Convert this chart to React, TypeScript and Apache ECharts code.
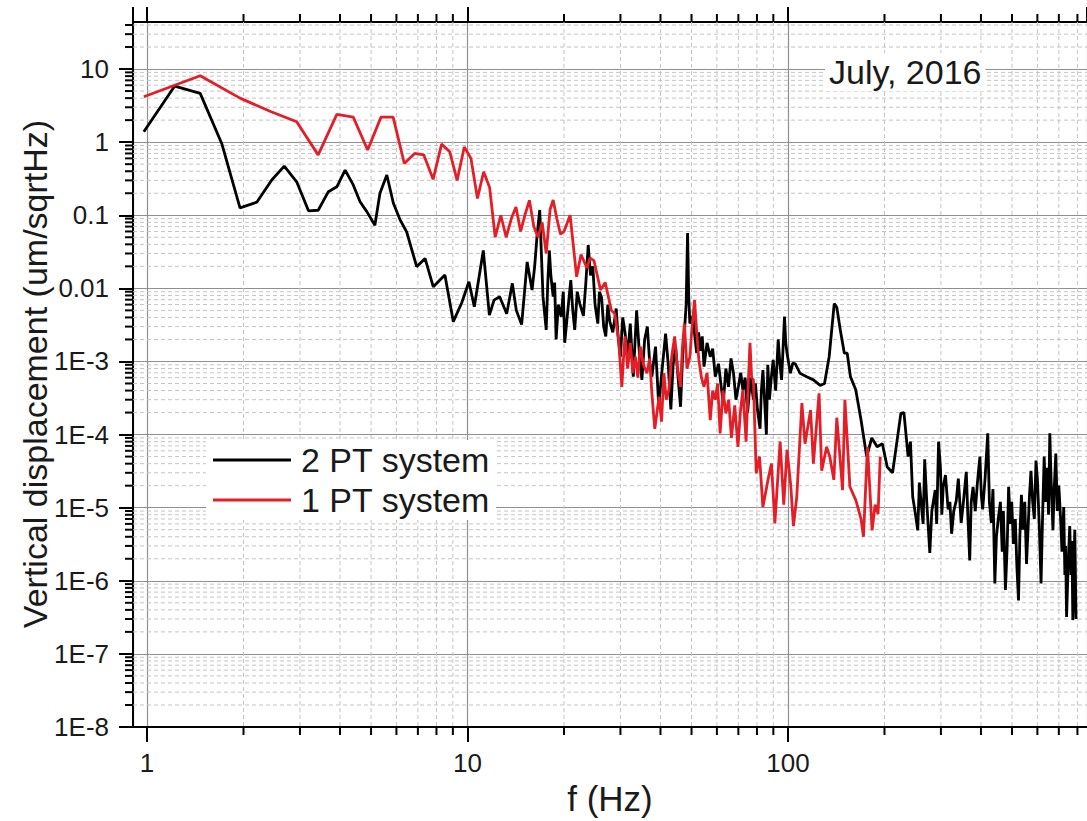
import React, { useEffect, useRef } from "react";
import * as echarts from "echarts";

const X_MIN = 0.904;
const X_MAX = 857;
const Y_MIN = 1e-8;
const Y_MAX = 44;

const X_TICK_LABELS: Record<number, string> = { 0: "1", 1: "10", 2: "100" };
const Y_TICK_LABELS = ["1E-8", "1E-7", "1E-6", "1E-5", "1E-4", "1E-3", "0.01", "0.1", "1", "10"];

const X_MINOR = [2, 3, 4, 5, 6, 7, 8, 9, 20, 30, 40, 50, 60, 70, 80, 90, 200, 300, 400, 500, 600, 700, 800];
const MINOR_MULT = [2, 3, 4, 5, 6, 7, 8, 9];
const Y_DECADES = [1e-8, 1e-7, 1e-6, 1e-5, 1e-4, 1e-3, 0.01, 0.1, 1, 10];

const SERIES_NAMES = ["2 PT system", "1 PT system"];
const TITLE_TEXT = "July, 2016";
const X_NAME = "f (Hz)";
const Y_NAME = "Vertical displacement (um/sqrtHz)";

// 2 PT system  [f (Hz), displacement]
const PT2: [number, number][] = [
  [0.977, 1.39], [1.22, 5.85], [1.465, 4.65], [1.71, 0.96], [1.95, 0.126], [2.2, 0.151], [2.45, 0.303],
  [2.68, 0.47], [2.93, 0.287], [3.19, 0.115], [3.42, 0.117], [3.68, 0.21], [3.91, 0.245], [4.15, 0.415],
  [4.4, 0.26], [4.62, 0.153], [4.85, 0.112], [5.14, 0.073], [5.33, 0.2], [5.6, 0.355], [5.87, 0.146],
  [6.15, 0.088], [6.46, 0.059], [6.94, 0.0198], [7.37, 0.0257], [7.82, 0.0105], [8.5, 0.0152], [9.03, 0.0035],
  [9.6, 0.0064], [10.1, 0.0123], [10.5, 0.0056], [11.2, 0.033], [11.7, 0.0043], [12.1, 0.0069], [12.6, 0.0077],
  [13.25, 0.0045], [13.8, 0.0117], [14.2, 0.005], [14.75, 0.0032], [15.35, 0.023], [15.9, 0.0095], [16.2, 0.02],
  [16.5, 0.056], [16.8, 0.118], [17.0, 0.03], [17.2, 0.0077], [17.6, 0.0027], [17.8, 0.012], [18.0, 0.033],
  [18.2, 0.015], [18.5, 0.0077], [18.7, 0.012], [18.9, 0.002], [19.2, 0.006], [19.6, 0.0041], [19.9, 0.009],
  [20.1, 0.0018], [20.6, 0.0055], [21.0, 0.013], [21.3, 0.005], [21.6, 0.0027], [22.0, 0.009], [22.4, 0.0062],
  [23.0, 0.0042], [23.4, 0.012], [23.8, 0.039], [24.2, 0.015], [24.6, 0.02], [25.0, 0.006], [25.5, 0.0033],
  [25.8, 0.009], [26.2, 0.0075], [26.6, 0.003], [27.0, 0.0022], [27.4, 0.006], [27.8, 0.0035], [28.4, 0.0025],
  [29.1, 0.0053], [29.5, 0.0022], [30.0, 0.00116], [30.5, 0.004], [31.0, 0.0025], [31.6, 0.0012], [32.2, 0.0033],
  [32.9, 0.00062], [33.7, 0.005], [34.3, 0.0015], [35.0, 0.00056], [35.7, 0.002], [36.4, 0.003], [37.0, 0.001],
  [37.6, 0.00062], [38.6, 0.0016], [39.5, 0.00025], [40.5, 0.0008], [41.5, 0.0024], [42.3, 0.0009],
  [43.1, 0.00022], [43.8, 0.0009], [44.6, 0.0016], [45.4, 0.0006], [46.2, 0.00024], [46.9, 0.0012],
  [47.5, 0.0025], [48.1, 0.006], [48.6, 0.057], [49.0, 0.008], [49.4, 0.0033], [50.5, 0.0042], [51.2, 0.0022],
  [51.9, 0.0013], [52.6, 0.0025], [53.3, 0.0014], [54.0, 0.0022], [54.7, 0.00085], [55.9, 0.0018],
  [57.2, 0.00116], [58.2, 0.0015], [59.3, 0.00062], [60.7, 0.00093], [61.7, 0.0005], [62.8, 0.00027],
  [64.0, 0.0008], [65.2, 0.00045], [66.4, 0.0011], [67.6, 0.00069], [68.8, 0.0003], [70.0, 0.00045],
  [71.2, 0.0007], [72.3, 0.00041], [73.5, 0.0006], [74.8, 0.0002], [76.4, 0.0006], [78.0, 0.0003],
  [79.1, 0.0005], [80.3, 0.00022], [81.8, 0.00012], [82.6, 0.0004], [83.5, 0.00076], [84.5, 0.0003],
  [85.6, 0.0001], [86.5, 0.0009], [87.5, 0.0003], [88.7, 0.0006], [89.9, 0.00105], [91.5, 0.0004],
  [93.2, 0.002], [94.4, 0.0009], [95.5, 0.00056], [96.5, 0.0015], [97.5, 0.0041], [98.4, 0.0018],
  [99.3, 0.0013], [101.7, 0.00069], [103.5, 0.00095], [105.4, 0.00093], [109, 0.00069], [114.4, 0.00062],
  [120, 0.00056], [126, 0.00047], [130, 0.0005], [134.4, 0.00116], [139.4, 0.0062], [142, 0.0055],
  [145.6, 0.0027], [149.9, 0.0013], [153, 0.0013], [156.6, 0.00062], [162.7, 0.00041], [169, 0.000158],
  [176, 0.00005], [182.6, 0.00009], [189.7, 0.000068], [197, 0.000075], [204, 0.000036], [212, 0.00003],
  [225, 0.000195], [230, 0.0002], [237, 0.00005], [241, 0.00008], [245, 0.000014], [249, 0.000009],
  [254, 0.0000049], [257, 0.000022], [261, 0.0000102], [264, 0.000006], [267, 0.000046], [271, 0.000012],
  [277, 0.0000024], [281, 0.000009], [288, 0.0000174], [291, 0.000006], [295, 0.00008], [299, 0.000035],
  [302, 0.000008], [305, 0.0000193], [310, 0.000028], [316, 0.0000095], [320, 0.000012], [324, 0.0000044],
  [329, 0.000009], [335, 0.0000125], [340, 0.000025], [347, 0.0000062], [352, 0.000011], [360, 0.000031],
  [364, 0.000008], [369, 0.0000019], [373, 0.000012], [378, 0.0000193], [384, 0.000009], [390, 0.000022],
  [397, 0.00005], [401, 0.000015], [405, 0.0000095], [412, 0.000025], [420, 0.000104], [425, 0.000012],
  [431, 0.0000062], [436, 0.000018], [442, 0.00000092], [447, 0.000004], [453, 0.000007], [460, 0.000012],
  [466, 0.0000025], [470, 0.000009], [477, 0.00000075], [483, 0.000003], [488, 0.0000193], [494, 0.000006],
  [499, 0.000012], [505, 0.0000032], [512, 0.000007], [518, 0.0000015], [524, 0.00000054], [529, 0.000004],
  [535, 0.000015], [540, 0.000005], [548, 0.000012], [555, 0.0000017], [562, 0.000006], [567, 0.000015],
  [573, 0.000032], [580, 0.000012], [587, 0.000007], [594, 0.000044], [600, 0.000025], [608, 0.000006],
  [616, 0.00000092], [623, 0.000008], [630, 0.00005], [637, 0.000012], [645, 0.000035], [650, 0.000008],
  [656, 0.000104], [662, 0.000025], [671, 0.0000049], [677, 0.000018], [685, 0.000055], [692, 0.000009],
  [700, 0.00002], [709, 0.000007], [716, 0.0000025], [725, 0.0000102], [731, 0.0000012], [735, 0.000003],
  [740, 0.00000032], [748, 0.0000015], [757, 0.0000056], [764, 0.0000012], [769, 0.0000035], [774, 0.00000029],
  [779, 0.0000008], [785, 0.000005], [792, 0.0000003],
];

// 1 PT system  [f (Hz), displacement]
const PT1: [number, number][] = [
  [0.977, 4.18], [1.465, 8.1], [1.95, 4.0], [2.44, 2.6], [2.93, 1.9], [3.42, 0.67], [3.91, 2.4], [4.4, 2.2],
  [4.88, 0.78], [5.37, 2.2], [5.86, 2.2], [6.35, 0.51], [6.84, 0.7], [7.3, 0.67], [7.81, 0.31], [8.3, 0.94],
  [8.8, 0.74], [9.28, 0.3], [9.77, 0.86], [10.25, 0.6], [10.74, 0.17], [11.23, 0.394], [11.72, 0.24],
  [12.2, 0.05], [12.7, 0.1], [13.2, 0.05], [13.7, 0.09], [14.16, 0.13], [14.65, 0.06], [15.1, 0.1], [15.6, 0.16],
  [16.1, 0.07], [16.6, 0.05], [17.1, 0.08], [17.6, 0.03], [18.1, 0.12], [18.5, 0.162], [19.0, 0.09],
  [19.5, 0.055], [20.0, 0.06], [20.9, 0.1], [21.9, 0.0144], [22.6, 0.029], [23.6, 0.019], [24.1, 0.026],
  [24.8, 0.024], [26.0, 0.0095], [26.9, 0.012], [28.1, 0.005], [28.8, 0.0045], [29.6, 0.002], [30.3, 0.00045],
  [30.7, 0.0012], [31.0, 0.0022], [31.6, 0.0008], [32.2, 0.0018], [32.8, 0.0007], [33.4, 0.00116],
  [34.0, 0.0006], [34.6, 0.0016], [35.4, 0.0009], [36.3, 0.00069], [37.0, 0.0011], [37.6, 0.00037],
  [38.4, 0.00012], [39.6, 0.00033], [40.3, 0.00015], [41.0, 0.00069], [41.7, 0.0003], [42.5, 0.00041],
  [43.4, 0.0012], [44.3, 0.0022], [45.2, 0.0008], [46.2, 0.00045], [46.8, 0.0015], [47.5, 0.0033],
  [48.4, 0.0008], [49.4, 0.00116], [50.2, 0.003], [51.1, 0.0069], [51.9, 0.0025], [52.7, 0.00105],
  [53.7, 0.0006], [54.7, 0.00045], [55.9, 0.0007], [57.2, 0.000158], [58.2, 0.0004], [59.3, 0.0003],
  [60.3, 0.0005], [61.4, 0.000104], [62.7, 0.0004], [64, 0.000195], [65.3, 0.0003], [66.6, 0.00009],
  [68.2, 0.00025], [69.8, 0.000068], [71.0, 0.0002], [72.3, 0.00041], [74, 0.00008], [75.0, 0.0004],
  [76.1, 0.0018], [77.0, 0.0006], [78, 0.00056], [78.8, 0.00012], [79.6, 0.0000295], [81.5, 0.00005],
  [83.5, 0.0000102], [86.6, 0.000024], [88.8, 0.00004], [91, 0.0000061], [94.5, 0.00008], [97, 0.000011],
  [99.3, 0.000062], [102, 0.00002], [104, 0.0000056], [106.5, 0.000014], [110.5, 0.00027], [113, 0.000075],
  [117.6, 0.000216], [120, 0.00004], [125, 0.000366], [127.4, 0.000032], [132, 0.000068], [135, 0.00005],
  [139, 0.000024], [142, 0.00017], [148, 0.0000174], [150.5, 0.0003], [156, 0.0000193], [163, 0.0000125],
  [169, 0.000007], [172, 0.000004], [177, 0.000068], [183, 0.0000049], [187, 0.000011], [191, 0.0000082],
  [194, 0.00005],
];

const FONT = "Liberation Sans, Arial, Helvetica, sans-serif";
const TEXT_COLOR = "#1a1a1a";
const MAJOR_GRID = "#8f8f8f";
const MINOR_GRID = "#c4c4c4";
const RED = "#e41e26";

export default function App() {
  const ref = useRef<HTMLDivElement>(null);

  useEffect(() => {
    if (!ref.current) return;
    const chart = echarts.init(ref.current, undefined, { renderer: "svg" });

    const yMinor: number[] = [];
    Y_DECADES.forEach((d) => MINOR_MULT.forEach((m) => {
      const v = d * m;
      if (v < Y_MAX) yMinor.push(v);
    }));

    const xLabel = (v: number) => {
      const l = Math.log10(v);
      const e = Math.round(l);
      return Math.abs(l - e) < 1e-6 && X_TICK_LABELS[e] !== undefined ? X_TICK_LABELS[e] : "";
    };
    const yLabel = (v: number) => {
      const l = Math.log10(v);
      const e = Math.round(l);
      return Math.abs(l - e) < 1e-6 ? (Y_TICK_LABELS[e + 8] ?? "") : "";
    };

    const option: any = {
      animation: false,
      backgroundColor: "#ffffff",
      textStyle: { fontFamily: FONT },
      grid: { left: 133, right: 0, top: 22, bottom: 94, containLabel: false },
      legend: {
        data: SERIES_NAMES,
        orient: "vertical",
        left: 206,
        top: 440,
        icon: "rect",
        itemWidth: 78,
        itemHeight: 3,
        itemGap: 6,
        padding: [3, 6, 3, 7],
        backgroundColor: "#ffffff",
        textStyle: { fontFamily: FONT, fontSize: 34, color: TEXT_COLOR, lineHeight: 34, padding: [0, 0, 0, 5] },
      },
      graphic: [
        {
          type: "text",
          left: 825,
          top: 53,
          z: 10,
          style: {
            text: TITLE_TEXT,
            font: `34px ${FONT}`,
            fill: TEXT_COLOR,
            backgroundColor: "#ffffff",
            padding: [2, 4, 2, 4],
          },
        },
        {
          type: "text",
          x: 35,
          y: 374,
          rotation: Math.PI / 2,
          z: 10,
          style: {
            text: Y_NAME,
            font: `34px ${FONT}`,
            fill: TEXT_COLOR,
            align: "center",
            verticalAlign: "middle",
          },
        },
      ],
      xAxis: [
        {
          type: "log",
          logBase: 10,
          min: X_MIN,
          max: X_MAX,
          splitNumber: 10,
          name: X_NAME,
          nameLocation: "middle",
          nameGap: 54,
          nameTextStyle: { fontFamily: FONT, fontSize: 35, color: TEXT_COLOR },
          axisLine: { show: true, onZero: false, lineStyle: { color: "#000", width: 2 } },
          axisTick: { show: true, inside: false, length: 15, lineStyle: { color: "#000", width: 2 } },
          axisLabel: {
            show: true, margin: 23, fontSize: 26, fontFamily: FONT, color: TEXT_COLOR,
            formatter: xLabel, showMinLabel: false, showMaxLabel: false,
          },
          splitLine: { show: true, lineStyle: { color: MAJOR_GRID, width: 1.2 } },
          minorTick: { show: false },
          minorSplitLine: { show: false },
        },
        {
          type: "log",
          logBase: 10,
          min: X_MIN,
          max: X_MAX,
          splitNumber: 10,
          position: "top",
          axisLine: { show: true, onZero: false, lineStyle: { color: "#000", width: 2 } },
          axisTick: { show: true, inside: false, length: 15, lineStyle: { color: "#000", width: 2 } },
          axisLabel: { show: false },
          splitLine: { show: false },
        },
      ],
      yAxis: {
        type: "log",
        logBase: 10,
        min: Y_MIN,
        max: Y_MAX,
        splitNumber: 10,
        axisLine: { show: true, onZero: false, lineStyle: { color: "#000", width: 2 } },
        axisTick: { show: true, inside: false, length: 14, lineStyle: { color: "#000", width: 2 } },
        axisLabel: {
          show: true, margin: 24, fontSize: 26, fontFamily: FONT, color: TEXT_COLOR,
          formatter: yLabel, showMaxLabel: false,
        },
        splitLine: { show: true, lineStyle: { color: MAJOR_GRID, width: 1.2 } },
      },
      series: [
        {
          type: "custom",
          name: "xMinor",
          xAxisIndex: 0,
          yAxisIndex: 0,
          z: 1,
          silent: true,
          clip: false,
          data: X_MINOR.map((v) => [v, Y_MIN]),
          renderItem: (_p: any, api: any) => {
            const x = api.value(0);
            const top = api.coord([x, Y_MAX]);
            const bot = api.coord([x, Y_MIN]);
            return {
              type: "group",
              children: [
                { type: "line", shape: { x1: top[0], y1: top[1], x2: bot[0], y2: bot[1] }, style: { stroke: MINOR_GRID, lineWidth: 1, lineDash: [4, 3] } },
                { type: "line", shape: { x1: bot[0], y1: bot[1], x2: bot[0], y2: bot[1] + 8 }, style: { stroke: "#000", lineWidth: 2 } },
                { type: "line", shape: { x1: top[0], y1: top[1], x2: top[0], y2: top[1] - 8 }, style: { stroke: "#000", lineWidth: 2 } },
              ],
            };
          },
        },
        {
          type: "custom",
          name: "yMinor",
          xAxisIndex: 0,
          yAxisIndex: 0,
          z: 1,
          silent: true,
          clip: false,
          data: yMinor.map((v) => [X_MIN, v]),
          renderItem: (_p: any, api: any) => {
            const y = api.value(1);
            const l = api.coord([X_MIN, y]);
            const r = api.coord([X_MAX, y]);
            return {
              type: "group",
              children: [
                { type: "line", shape: { x1: l[0], y1: l[1], x2: r[0], y2: r[1] }, style: { stroke: MINOR_GRID, lineWidth: 1, lineDash: [4, 3] } },
                { type: "line", shape: { x1: l[0] - 8, y1: l[1], x2: l[0], y2: l[1] }, style: { stroke: "#000", lineWidth: 2 } },
              ],
            };
          },
        },
        {
          type: "line",
          name: SERIES_NAMES[0],
          xAxisIndex: 0,
          data: PT2,
          symbol: "none",
          showSymbol: false,
          z: 3,
          lineStyle: { color: "#000000", width: 2.8 },
          itemStyle: { color: "#000000" },
        },
        {
          type: "line",
          name: SERIES_NAMES[1],
          xAxisIndex: 0,
          data: PT1,
          symbol: "none",
          showSymbol: false,
          z: 4,
          lineStyle: { color: RED, width: 2.8 },
          itemStyle: { color: RED },
        },
      ],
    };

    chart.setOption(option);
    return () => chart.dispose();
  }, []);

  return (
    <div
      ref={ref}
      style={{ position: "fixed", left: 0, top: 0, width: 1087, height: 821, background: "#fff" }}
    />
  );
}
